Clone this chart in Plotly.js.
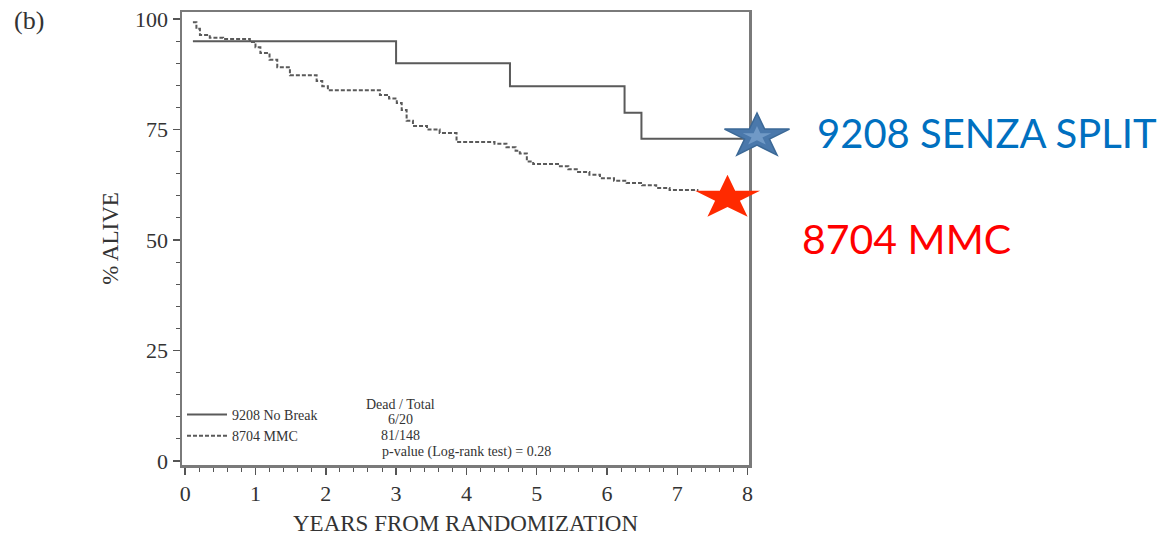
<!DOCTYPE html>
<html><head><meta charset="utf-8">
<script src="https://cdn.plot.ly/plotly-3.0.1.min.js"></script>
<style>html,body{margin:0;padding:0;background:#fff}</style>
</head><body><div id="chart" style="width:1171px;height:536px"></div>
<script>
// 9208 No Break (solid step curve)
const noBreakYears = [0.11, 3.0, 4.62, 6.25, 6.49, 8.0];
const noBreakAlive = [95, 90, 84.8, 78.8, 72.9, 72.9];
// 8704 MMC (dashed curve)
const mmcYears = [0.11,0.16,0.21,0.35,0.54,0.92,1.0,1.07,1.2,1.31,1.49,1.87,1.95,2.03,2.63,2.77,2.9,3.01,3.08,3.15,3.24,3.44,3.62,3.86,4.4,4.57,4.7,4.76,4.86,4.95,5.33,5.45,5.57,5.75,5.9,6.1,6.28,6.5,6.7,6.89,7.3];
const mmcAlive = [99.3,97.8,96.4,95.8,95.5,94.8,93.6,92.3,90.8,89.1,87.3,86.0,84.8,83.9,83.9,82.8,82.0,81.0,79.4,77.0,75.8,75.0,74.2,72.2,71.8,71.0,70.2,69.6,67.8,67.2,66.7,66.0,65.4,64.8,64.0,63.4,62.9,62.4,61.8,61.3,61.3];
const seriesNames = ["9208 No Break", "8704 MMC"];
const xTicks = [0,1,2,3,4,5,6,7,8];
const yTicks = [0,25,50,75,100];
// star callouts
const starLabels = ["9208 SENZA SPLIT", "8704 MMC"];
const statsLines = ["Dead / Total", "6/20", "81/148", "p-value (Log-rank test) = 0.28"];

const serif = '"Liberation Serif", "DejaVu Serif", serif';
const grey = '#5a5a5a';
const smallFont = {family: serif, size: 14, color: '#333'};

// 5-point star outline (pixel offsets around its anchor), flattened vertically
function starPath(R, sy) {
  const pts = [];
  for (let i = 0; i < 10; i++) {
    const rad = (i % 2 === 0) ? R : R * 0.382;
    const a = Math.PI / 2 + i * Math.PI / 5;
    pts.push([rad * Math.cos(a), rad * Math.sin(a) * sy]);
  }
  return 'M' + pts.map(p => p[0].toFixed(2) + ',' + p[1].toFixed(2)).join(' L') + ' Z';
}
function starShape(px, py, R, sy, fill, lineColor, lineWidth) {
  return {type: 'path', xref: 'paper', yref: 'paper', xsizemode: 'pixel', ysizemode: 'pixel',
          xanchor: px, yanchor: py, path: starPath(R, sy), layer: 'above',
          fillcolor: fill, line: {color: lineColor, width: lineWidth}};
}

const traces = [
  {x: noBreakYears, y: noBreakAlive, mode: 'lines', name: seriesNames[0],
   line: {shape: 'hv', color: grey, width: 2}},
  {x: mmcYears, y: mmcAlive, mode: 'lines', name: seriesNames[1],
   line: {shape: 'hv', color: grey, width: 2, dash: '4px,2px'}}
];

const axisCommon = {
  showline: true, linewidth: 2.5, linecolor: '#7a7a7a', mirror: true,
  showgrid: false, zeroline: false, ticks: 'outside', ticklen: 7, tickwidth: 1.5,
  tickcolor: '#555', tickfont: {family: serif, size: 22, color: '#333'}
};

const layout = {
  width: 1171, height: 536,
  margin: {l: 182, r: 422, t: 12, b: 71},
  paper_bgcolor: '#fff', plot_bgcolor: '#fff',
  showlegend: true,
  legend: {x: 0.0, y: 0.146, xanchor: 'left', yanchor: 'top', bgcolor: 'rgba(0,0,0,0)',
           itemwidth: 40, font: smallFont, tracegroupgap: 0},
  xaxis: Object.assign({}, axisCommon, {
    range: [-0.045, 8.02], tickvals: xTicks, ticktext: xTicks.map(String),
    minor: {dtick: 0.2, tick0: 0, ticks: 'outside', ticklen: 4, tickcolor: '#555', tickwidth: 1},
    title: {text: 'YEARS FROM RANDOMIZATION', font: {family: serif, size: 23, color: '#333'}, standoff: 10}
  }),
  yaxis: Object.assign({}, axisCommon, {
    range: [-0.9, 101.6], tickvals: yTicks, ticktext: yTicks.map(String),
    minor: {dtick: 5, tick0: 0, ticks: 'outside', ticklen: 4, tickcolor: '#555', tickwidth: 1},
    title: {text: '% ALIVE', font: {family: serif, size: 23, color: '#333'}, standoff: 10}
  }),
  shapes: [
    starShape(1.0141, 0.7256, 34.2, 0.68, '#4a78ab', '#3b6896', 1.5),
    starShape(1.0141, 0.7256, 15, 0.68, '#7099c6', 'rgba(0,0,0,0)', 0),
    starShape(0.9621, 0.5894, 34.2, 0.68, '#ff2a00', 'rgba(0,0,0,0)', 0)
  ],
  annotations: [
    {xref: 'x', yref: 'y', x: 3.06, y: 12.9, text: statsLines[0], showarrow: false, font: smallFont},
    {xref: 'x', yref: 'y', x: 3.06, y: 9.3, text: statsLines[1], showarrow: false, font: smallFont},
    {xref: 'x', yref: 'y', x: 3.06, y: 5.7, text: statsLines[2], showarrow: false, font: smallFont},
    {xref: 'x', yref: 'y', x: 2.77, y: 2.0, xanchor: 'left', text: statsLines[3], showarrow: false, font: smallFont},
    {xref: 'paper', yref: 'paper', x: 1.116, y: 0.733, xanchor: 'left', yanchor: 'middle',
     text: starLabels[0], showarrow: false, font: {family: 'Lato, "Open Sans", sans-serif', size: 40, color: '#0070c0'}},
    {xref: 'paper', yref: 'paper', x: 1.09, y: 0.499, xanchor: 'left', yanchor: 'middle',
     text: starLabels[1], showarrow: false, font: {family: 'Lato, "Open Sans", sans-serif', size: 41, color: '#ff0000'}},
    {xref: 'paper', yref: 'paper', x: -0.2995, y: 0.982, xanchor: 'left', yanchor: 'middle',
     text: '(b)', showarrow: false, font: {family: serif, size: 26, color: '#333'}}
  ]
};

Plotly.newPlot('chart', traces, layout, {displayModeBar: false, staticPlot: true});
</script>
</body></html>
